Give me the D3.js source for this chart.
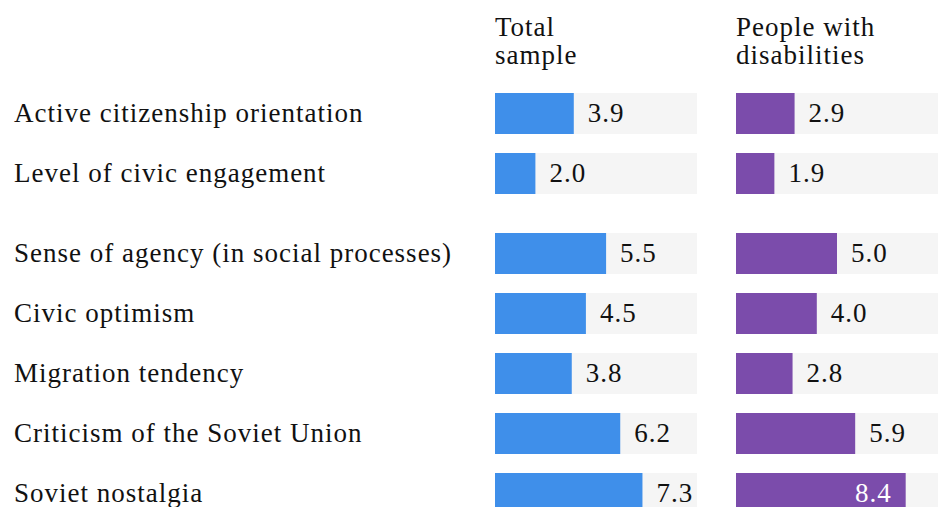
<!DOCTYPE html>
<html><head><meta charset="utf-8">
<script src="https://cdn.jsdelivr.net/npm/d3@7"></script>
<style>
html,body{margin:0;padding:0;background:#fff;}
svg{display:block;}
text{font-family:"Liberation Serif","Times New Roman",serif;fill:#111;letter-spacing:1px;}
</style></head>
<body>
<svg id="chart" width="942" height="507"></svg>
<script>
const categories = [
  "Active citizenship orientation",
  "Level of civic engagement",
  "Sense of agency (in social processes)",
  "Civic optimism",
  "Migration tendency",
  "Criticism of the Soviet Union",
  "Soviet nostalgia"
];
const groups = [0, 0, 1, 1, 1, 1, 1];
const seriesNames = [["Total", "sample"], ["People with", "disabilities"]];
const totalSample = [3.9, 2.0, 5.5, 4.5, 3.8, 6.2, 7.3];
const disabilities = [2.9, 1.9, 5.0, 4.0, 2.8, 5.9, 8.4];
const domainMax = 10;

const colors = ["#3f8fea", "#7b4cab"];
const series = [totalSample, disabilities];

const svg = d3.select("#chart");
const fs = 27;
const colX = [495, 736];
const colW = 202;
const barH = 41;
const rowStep = 60;
const groupGap = 20;
const top0 = 93;

const x = d3.scaleLinear().domain([0, domainMax]).range([0, colW]);
const yPos = i => top0 + i * rowStep + groups[i] * groupGap;

// row labels
svg.selectAll("text.cat").data(categories).join("text")
  .attr("class", "cat")
  .attr("x", 14)
  .attr("y", (d, i) => yPos(i) + barH / 2 + 8.5)
  .style("font-size", fs + "px")
  .text(d => d);

series.forEach((vals, s) => {
  const g = svg.append("g").attr("transform", `translate(${colX[s]},0)`);
  // header
  const h = g.append("text").attr("x", 0).attr("y", 36).style("font-size", fs + "px");
  seriesNames[s].forEach((line, k) => {
    h.append("tspan").attr("x", 0).attr("y", 36 + k * 27.5).text(line);
  });
  // background
  g.selectAll("rect.bg").data(vals).join("rect")
    .attr("class", "bg")
    .attr("x", 0).attr("y", (d, i) => yPos(i))
    .attr("width", x(domainMax)).attr("height", barH)
    .attr("fill", "#f5f5f5");
  g.selectAll("rect.bar").data(vals).join("rect")
    .attr("class", "bar")
    .attr("x", 0).attr("y", (d, i) => yPos(i))
    .attr("width", d => x(d)).attr("height", barH)
    .attr("fill", colors[s]);
  g.selectAll("text.val").data(vals).join("text")
    .attr("class", "val")
    .attr("y", (d, i) => yPos(i) + barH / 2 + 8.5)
    .style("font-size", fs + "px")
    .text(d => d.toFixed(1))
    .each(function(d) {
      const w = this.getComputedTextLength();
      const pad = 14;
      const t = d3.select(this);
      if (x(d) + pad + w > colW) {
        t.attr("x", x(d) - pad).attr("text-anchor", "end").style("fill", "#fff");
      } else {
        t.attr("x", x(d) + pad).attr("text-anchor", "start");
      }
    });
});
</script>
</body></html>
